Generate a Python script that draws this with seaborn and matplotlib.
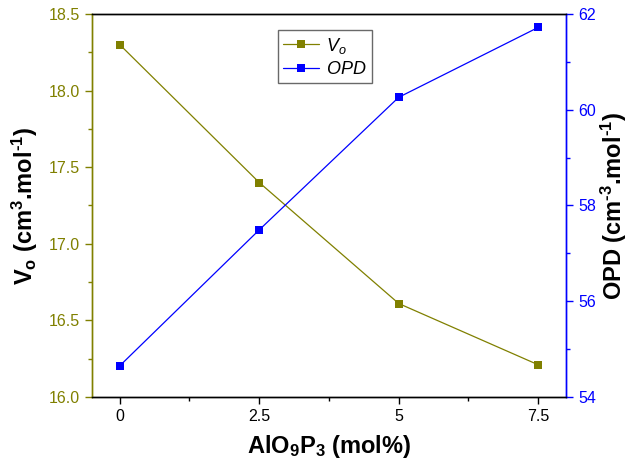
import matplotlib
matplotlib.use("Agg")
import matplotlib.pyplot as plt
from matplotlib.ticker import MultipleLocator, FixedLocator, FormatStrFormatter
import seaborn as sns
import pandas as pd

# Composition (mol% AlO9P3) and measured quantities
alo9p3 = [0, 2.5, 5, 7.5]
x_tick_labels = ["0", "2.5", "5", "7.5"]
vo = [18.30, 17.40, 16.61, 16.21]
opd = [54.65, 57.49, 60.26, 61.72]

sns.set_theme(style="white")
plt.rcParams["font.family"] = ["Liberation Sans", "DejaVu Sans"]
plt.rcParams["text.color"] = "black"
plt.rcParams["axes.labelcolor"] = "black"
plt.rcParams["mathtext.fontset"] = "custom"
plt.rcParams["mathtext.rm"] = "Liberation Sans"
plt.rcParams["mathtext.it"] = "Liberation Sans:italic"
plt.rcParams["mathtext.bf"] = "Liberation Sans:bold"
plt.rcParams["mathtext.bfit"] = "Liberation Sans:italic:bold"

OLIVE = "#808000"
BLUE = "#0000FF"
HY = "\u2010"  # short hyphen for the exponent signs

df = pd.DataFrame({"x": alo9p3, "vo": vo, "opd": opd})

fig = plt.figure(figsize=(6.29, 4.67), dpi=100)
ax = fig.add_axes([0.146, 0.150, 0.754, 0.820])
ax2 = ax.twinx()

sns.lineplot(data=df, x="x", y="vo", ax=ax, color=OLIVE, marker="s",
             markersize=6, markeredgewidth=0, linewidth=0.9, label=r"$V_o$",
             legend=False)
sns.lineplot(data=df, x="x", y="opd", ax=ax2, color=BLUE, marker="s",
             markersize=6, markeredgewidth=0, linewidth=0.9, label=r"$OPD$",
             legend=False)

ax.set_xlim(-0.5, 8.0)
ax.set_ylim(16.0, 18.5)
ax2.set_ylim(54, 62)

ax.xaxis.set_major_locator(FixedLocator(alo9p3))
ax.set_xticklabels(x_tick_labels)
ax.xaxis.set_minor_locator(MultipleLocator(1.25))
ax.yaxis.set_major_locator(MultipleLocator(0.5))
ax.yaxis.set_minor_locator(MultipleLocator(0.25))
ax2.yaxis.set_major_locator(MultipleLocator(2))
ax2.yaxis.set_minor_locator(MultipleLocator(1))
ax.yaxis.set_major_formatter(FormatStrFormatter("%.1f"))

for a in (ax, ax2):
    for s in a.spines.values():
        s.set_linewidth(1.0)
        s.set_color("black")
    a.spines["left"].set_color(OLIVE)
    a.spines["right"].set_color(BLUE)

ax.tick_params(axis="x", which="major", direction="out", length=5, width=1,
               colors="black", labelsize=11.5, bottom=True, top=False, pad=4)
ax.tick_params(axis="x", which="minor", direction="out", length=3, width=1,
               colors="black", bottom=True, top=False)
ax.tick_params(axis="y", which="major", direction="out", length=5, width=1,
               colors=OLIVE, labelsize=11.5, left=True, right=False)
ax.tick_params(axis="y", which="minor", direction="out", length=3, width=1,
               colors=OLIVE, left=True, right=False)
ax2.tick_params(axis="y", which="major", direction="out", length=5, width=1,
                colors=BLUE, labelsize=11.5, right=True, left=False)
ax2.tick_params(axis="y", which="minor", direction="out", length=3, width=1,
                colors=BLUE, right=True, left=False)

ax.set_xlabel(r"AlO$_\mathbf{9}$P$_\mathbf{3}$ (mol%)", fontsize=17,
              fontweight="bold", labelpad=6, color="black")
ax.set_ylabel(r"$\mathbf{V_o}$ (cm$^\mathbf{3}$.mol$^\mathbf{" + HY + r"1}$)",
              fontsize=17, fontweight="bold", labelpad=6, color="black")
ax2.set_ylabel(r"OPD (cm$^\mathbf{" + HY + r"3}$.mol$^\mathbf{" + HY + r"1}$)",
               fontsize=17, fontweight="bold", rotation=90, labelpad=2,
               color="black")

h1, l1 = ax.get_legend_handles_labels()
h2, l2 = ax2.get_legend_handles_labels()
leg = ax2.legend(h1 + h2, l1 + l2, loc="upper left",
                 bbox_to_anchor=(0.392, 0.958), fontsize=13, frameon=True,
                 fancybox=False, edgecolor="#444444", handlelength=2.0,
                 borderpad=0.3, labelspacing=0.3, handletextpad=0.4,
                 borderaxespad=0.0)
leg.get_frame().set_linewidth(1.0)
for t in leg.get_texts():
    t.set_color("black")

fig.savefig("out.png", dpi=100)
